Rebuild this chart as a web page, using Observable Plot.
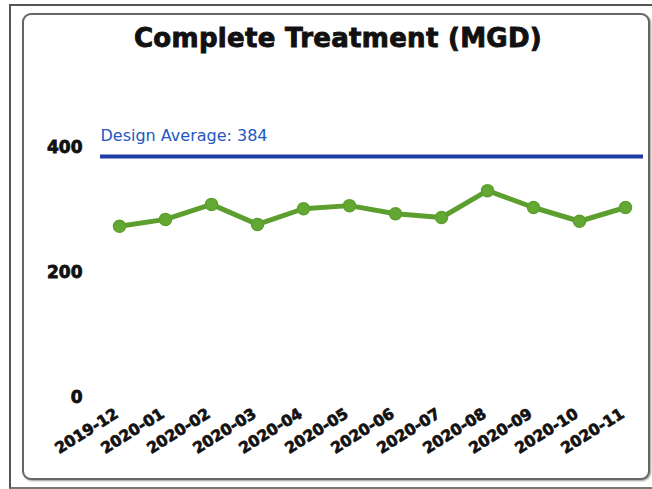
<!DOCTYPE html>
<html>
<head>
<meta charset="utf-8">
<script src="https://cdn.jsdelivr.net/npm/d3@7"></script>
<script src="https://cdn.jsdelivr.net/npm/@observablehq/plot@0.6"></script>
<style>
  html, body { margin: 0; padding: 0; background: #fff; }
  #wrap { position: relative; width: 652px; height: 489px; overflow: hidden; background: #fff; }
  #outer { position: absolute; left: 9px; top: 4px; width: 660px; height: 481px;
           border-left: 2px solid #555; border-top: 2px solid #555; border-bottom: 2px solid #777; }
  #inner { position: absolute; left: 22px; top: 13px; width: 624px; height: 463px;
           border: 2px solid #666; border-radius: 9px; box-shadow: 1px 1px 2px #999; background:#fff; }
  #title { position: absolute; left: 12px; width: 652px; top: 23px; text-align: center;
           font-family: "DejaVu Sans", sans-serif; font-weight: bold; font-size: 26px; color: #111;
           letter-spacing: 0.3px; -webkit-text-stroke: 0.9px #111; }
  #chart { position: absolute; left: 0; top: 0; }
  .ct g[aria-label="y-axis tick label"] text { stroke: #111; stroke-width: 0.8px; }
  .ct g.xlab text { stroke: #111; stroke-width: 0.7px; }
</style>
</head>
<body>
<div id="wrap">
  <div id="outer"></div>
  <div id="inner"></div>
  <div id="title">Complete Treatment (MGD)</div>
  <div id="chart"></div>
</div>
<script>
const months = ["2019-12","2020-01","2020-02","2020-03","2020-04","2020-05","2020-06","2020-07","2020-08","2020-09","2020-10","2020-11"];
const values = [274, 285, 309, 277, 302, 307, 294, 288, 331, 304, 282, 304];
const designAverage = 384;
const designLabel = "Design Average: 384";
const yTicks = [0, 200, 400];

const data = months.map((m, i) => ({month: m, value: values[i]}));

const plot = Plot.plot({
  width: 652,
  height: 489,
  marginTop: 147,
  marginBottom: 92,
  marginLeft: 100,
  marginRight: 9,
  className: "ct",
  style: {background: "transparent", overflow: "visible"},
  x: {type: "point", domain: months, padding: 0.4, axis: null},
  y: {domain: [0, 400], axis: null},
  marks: [
    Plot.axisY({ticks: yTicks, tickSize: 0, tickPadding: 18, fontSize: 17, fontWeight: "bold",
      fontFamily: "DejaVu Sans", fill: "#111", label: null}),
    Plot.text(months, {x: d => d, frameAnchor: "bottom", rotate: -32, textAnchor: "end",
      dy: 19, dx: 0, fontSize: 15.5, fontWeight: "bold", fontFamily: "DejaVu Sans",
      fill: "#111", className: "xlab"}),
    Plot.ruleY([designAverage], {stroke: "#1d3fa5", strokeWidth: 4, dy: -1}),
    Plot.text([designLabel], {frameAnchor: "left", y: designAverage, dy: -22, textAnchor: "start",
      fontSize: 16, fontFamily: "DejaVu Sans", fill: "#2457c0"}),
    Plot.line(data, {x: "month", y: "value", stroke: "#5c9f2e", strokeWidth: 5}),
    Plot.dot(data, {x: "month", y: "value", r: 6, fill: "#64a834", stroke: "#5c9f2e"})
  ]
});
document.getElementById("chart").appendChild(plot);
</script>
</body>
</html>
